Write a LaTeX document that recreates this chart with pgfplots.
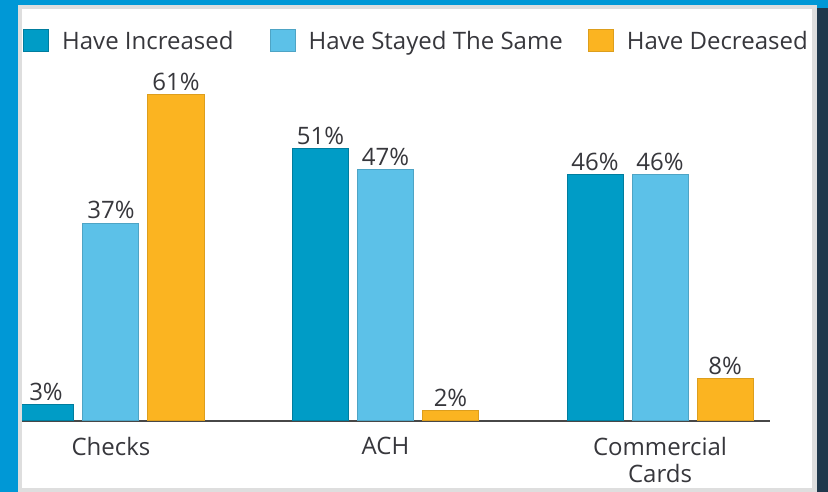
\documentclass[border=0pt]{standalone}
\usepackage{pgfplots}
\pgfplotsset{compat=1.18}
\usepackage{fontspec}
\setmainfont{Open Sans}
\definecolor{inc}{RGB}{0,156,198}
\definecolor{same}{RGB}{92,193,232}
\definecolor{dec}{RGB}{251,180,33}
\definecolor{frameblue}{RGB}{0,152,214}
\definecolor{navy}{RGB}{32,56,76}
\definecolor{txt}{RGB}{55,55,60}
\newcommand\lf{\fontsize{24bp}{28bp}\selectfont}
\newcommand\tf{\fontsize{24bp}{27bp}\selectfont}
\begin{document}
\begin{tikzpicture}[x=1bp,y=1bp]
\useasboundingbox (0,0) rectangle (828,492);
\fill[frameblue] (0,0) rectangle (828,492);
\fill[navy] (817,0) rectangle (828,484);
\fill[black!13] (18,0) rectangle (817,487);
\fill[white] (22,4) rectangle (812,483);
\begin{axis}[
  at={(22bp,71bp)}, anchor=south west,
  scale only axis, width=748bp, height=374.5bp,
  xmin=-0.3242, xmax=2.4007, ymin=0, ymax=70,
  ybar=9bp, bar width=56bp,
  axis x line=bottom, axis y line=none,
  axis line style={-, draw=black!72, line width=2bp},
  xtick={0,1,2}, xticklabels={Checks,ACH,{Commercial\\Cards}},
  xticklabel style={align=center, font=\tf, text=txt, yshift=-13bp},
  major tick length=0pt, ytick=\empty,
  /pgf/number format/assume math mode=true,
  nodes near coords={\pgfmathprintnumber{\pgfplotspointmeta}\%},
  every node near coord/.append style={font=\tf, text=txt},
  clip=false,
  legend columns=3,
  legend style={at={(axis description cs:0,1)}, anchor=west, xshift=1bp, yshift=5.5bp,
    draw=none, fill=none, inner sep=0pt, font=\lf, text=txt,
    /tikz/every odd column/.append style={column sep=11bp},
    /tikz/column 2/.style={column sep=34bp},
    /tikz/column 4/.style={column sep=23bp}},
  legend image code/.code={\draw[#1,line width=1bp] (0bp,-11bp) rectangle (25bp,11bp);},
]
\addplot[fill=inc, draw=inc!80!black, line width=1bp] coordinates {(0,3) (1,51) (2,46)};
\addplot[fill=same, draw=same!85!black, line width=1bp] coordinates {(0,37) (1,47) (2,46)};
\addplot[fill=dec, draw=dec!88!black, line width=1bp] coordinates {(0,61) (1,2) (2,8)};
\legend{Have Increased, Have Stayed The Same, Have Decreased}
\end{axis}
\fill[frameblue] (0,0) rectangle (18,492);
\fill[black!13] (18,0) rectangle (22,487);
\end{tikzpicture}
\end{document}
